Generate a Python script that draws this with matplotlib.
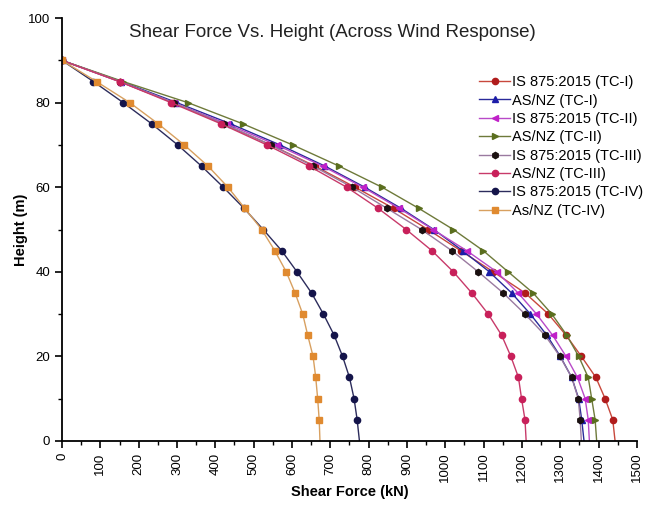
import matplotlib
matplotlib.use("Agg")
import matplotlib.pyplot as plt
from matplotlib.ticker import MultipleLocator

plt.rcParams['font.family'] = ['Liberation Sans', 'DejaVu Sans']

# heights (m) at which shear force was computed
height = [90, 85, 80, 75, 70, 65, 60, 55, 50, 45, 40, 35, 30, 25, 20, 15, 10, 5, 0]

# shear force (kN) for each code / terrain category
is_tc1 = [0, 150, 290, 420, 545, 660, 765, 865, 955, 1040, 1125, 1208, 1269, 1315, 1355, 1393, 1417, 1437, 1443]
asnz_tc1 = [0, 155, 300, 440, 569, 686, 790, 885, 970, 1045, 1115, 1173, 1222, 1265, 1300, 1330, 1348, 1356, 1362]
is_tc2 = [0, 150, 292, 430, 560, 680, 785, 880, 968, 1056, 1134, 1190, 1238, 1280, 1315, 1345, 1365, 1373, 1376]
asnz_tc2 = [0, 160, 329, 472, 602, 723, 835, 931, 1021, 1099, 1164, 1229, 1278, 1317, 1348, 1373, 1382, 1391, 1395]
is_tc3 = [0, 152, 292, 422, 545, 655, 757, 848, 938, 1017, 1086, 1151, 1208, 1260, 1299, 1330, 1347, 1352, 1355]
asnz_tc3 = [0, 150, 285, 415, 535, 645, 743, 825, 898, 965, 1021, 1069, 1112, 1147, 1171, 1191, 1199, 1208, 1211]
is_tc4 = [0, 82, 160, 234, 302, 364, 421, 475, 525, 573, 613, 651, 682, 710, 732, 750, 762, 770, 776]
asnz_tc4 = [0, 90, 177, 251, 319, 381, 433, 477, 521, 555, 585, 608, 628, 641, 655, 662, 667, 671, 673]

labels = ['IS 875:2015 (TC-I)', 'AS/NZ (TC-I)', 'IS 875:2015 (TC-II)', 'AS/NZ (TC-II)',
          'IS 875:2015 (TC-III)', 'AS/NZ (TC-III)', 'IS 875:2015 (TC-IV)', 'As/NZ (TC-IV)']

series = [is_tc1, asnz_tc1, is_tc2, asnz_tc2, is_tc3, asnz_tc3, is_tc4, asnz_tc4]
line_colors = ['#c8483c', '#2a2a9a', '#b84ac8', '#6e7a3a', '#9a7aa0', '#c83a6a', '#2c2c5c', '#d8a060']
marker_colors = ['#b01c1c', '#1c1ca8', '#c020c8', '#5a6e1e', '#1a1010', '#c8205a', '#14144a', '#e08a30']
markers = ['o', '^', '<', '>', 'h', 'o', 'o', 's']

fig = plt.figure(figsize=(6.6, 5.05), dpi=100)
ax = fig.add_axes([0.094, 0.127, 0.871, 0.837])

for vals, lab, lc, mc, mk in zip(series, labels, line_colors, marker_colors, markers):
    ax.plot(vals, height, color=lc, lw=1.0, marker=mk, ms=4.5,
            markerfacecolor=mc, markeredgecolor=mc, markevery=slice(0, -1),
            label=lab)

ax.set_xlim(0, 1500)
ax.set_ylim(0, 100)
ax.xaxis.set_major_locator(MultipleLocator(100))
ax.xaxis.set_minor_locator(MultipleLocator(50))
ax.yaxis.set_major_locator(MultipleLocator(20))
ax.yaxis.set_minor_locator(MultipleLocator(10))

for s in ['top', 'right']:
    ax.spines[s].set_visible(False)
for s in ['left', 'bottom']:
    ax.spines[s].set_linewidth(1.3)

ax.tick_params(which='major', direction='out', length=5, width=1.2, labelsize=9.5)
ax.tick_params(which='minor', direction='out', length=3, width=1.0)
plt.setp(ax.get_xticklabels(), rotation=90)

ax.set_xlabel('Shear Force (kN)', fontsize=10.5, fontweight='bold', labelpad=2)
ax.set_ylabel('Height (m)', fontsize=10.5, fontweight='bold', labelpad=0)

ax.text(0.47, 0.965, 'Shear Force Vs. Height (Across Wind Response)',
        transform=ax.transAxes, ha='center', va='center', fontsize=13.5, color='#222222')

ax.legend(loc='upper right', bbox_to_anchor=(1.021, 0.879), frameon=False,
          fontsize=10.5, handlelength=2.1, handletextpad=0.15, labelspacing=0.3,
          borderaxespad=0)

fig.savefig('out.png', dpi=100)
